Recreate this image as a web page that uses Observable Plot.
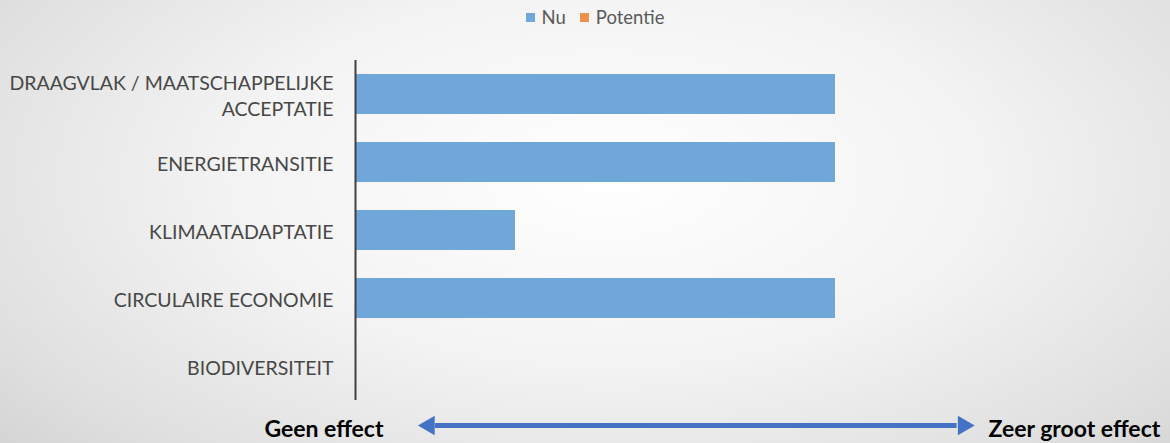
<!DOCTYPE html>
<html>
<head>
<meta charset="utf-8">
<script src="https://cdn.jsdelivr.net/npm/d3@7"></script>
<script src="https://cdn.jsdelivr.net/npm/@observablehq/plot@0.6"></script>
<style>
  html, body { margin: 0; padding: 0; }
  body {
    width: 1170px; height: 443px; overflow: hidden;
    background: radial-gradient(ellipse 72% 95% at 52% 40%, #ffffff 0%, #f3f3f3 45%, #e0e0e0 80%, #d2d2d2 100%);
    font-family: Lato, "Open Sans", sans-serif;
  }
  #legend {
    height: 34px; display: flex; justify-content: center; align-items: center;
    font-size: 18.5px; color: #595959; padding-left: 20px; box-sizing: border-box;
  }
  #legend .sw { display: inline-block; width: 9px; height: 9px; margin-right: 7px; }
  #legend .item { display: inline-flex; align-items: center; margin: 0 7px; }
  svg { display: block; background: transparent !important; }
</style>
</head>
<body>
<div id="legend"></div>
<div id="chart"></div>
<div id="bottom"></div>
<script>
const categories = [
  "DRAAGVLAK / MAATSCHAPPELIJKE\nACCEPTATIE",
  "ENERGIETRANSITIE",
  "KLIMAATADAPTATIE",
  "CIRCULAIRE ECONOMIE",
  "BIODIVERSITEIT"
];
const nu = [3, 3, 1, 3, 0];
const potentie = [0, 0, 0, 0, 0];
const seriesNames = ["Nu", "Potentie"];
const seriesColors = ["#6FA7DA", "#F0904F"];
const xDomain = [0, 4];
const scaleLabels = ["Geen effect", "Zeer groot effect"];
const arrowHeads = [0.46, 3.8];
const arrowShaft = [0.5, 3.76];
const labelEnds = [0.175, 3.956];

// legend
const leg = document.getElementById("legend");
seriesNames.forEach((s, i) => {
  const it = document.createElement("span");
  it.className = "item";
  it.innerHTML = `<span class="sw" style="background:${seriesColors[i]}"></span>${s}`;
  leg.appendChild(it);
});

const data = categories.map((c, i) => ({category: c, Nu: nu[i], Potentie: potentie[i]}));

const main = Plot.plot({
  width: 1170,
  height: 368,
  marginLeft: 355,
  marginRight: 175,
  marginTop: 26,
  marginBottom: 2,
  style: {background: "transparent", fontFamily: "Lato, 'Open Sans', sans-serif"},
  x: {domain: xDomain, axis: null},
  y: {domain: categories, paddingInner: 0.41, paddingOuter: 0.205, axis: null},
  marks: [
    Plot.barX(data, {y: "category", x: "Nu", fill: seriesColors[0]}),
    Plot.ruleX([0], {stroke: "#404040", strokeWidth: 2}),
    Plot.text(data, {
      y: "category", x: 0, text: "category", textAnchor: "end", dx: -22,
      fill: "#474747", fontSize: 19.5, lineHeight: 1.33
    })
  ]
});
document.getElementById("chart").appendChild(main);

const bottom = Plot.plot({
  width: 1170,
  height: 41,
  marginLeft: 355,
  marginRight: 175,
  marginTop: 11,
  marginBottom: 0,
  style: {background: "transparent", fontFamily: "Lato, 'Open Sans', sans-serif", overflow: "visible"},
  x: {domain: xDomain, axis: null},
  y: {domain: [0, 1], axis: null},
  marks: [
    Plot.ruleY([0.5], {x1: arrowShaft[0], x2: arrowShaft[1], stroke: "#4472C4", strokeWidth: 5, dy: -3}),
    Plot.dot([arrowHeads[0]], {x: d => d, y: 0.5, symbol: "triangle", r: 7.2, fill: "#4472C4", stroke: "none", rotate: -90, dy: -3}),
    Plot.dot([arrowHeads[1]], {x: d => d, y: 0.5, symbol: "triangle", r: 7.2, fill: "#4472C4", stroke: "none", rotate: 90, dy: -3}),
    Plot.text([scaleLabels[0]], {x: labelEnds[0], y: 0.5, text: d => d, textAnchor: "end",
      fontWeight: "bold", fontSize: 23, fill: "#000", dy: 1}),
    Plot.text([scaleLabels[1]], {x: labelEnds[1], y: 0.5, text: d => d, textAnchor: "start",
      fontWeight: "bold", fontSize: 23, fill: "#000", dy: 1})
  ]
});
document.getElementById("bottom").appendChild(bottom);
</script>
</body>
</html>
